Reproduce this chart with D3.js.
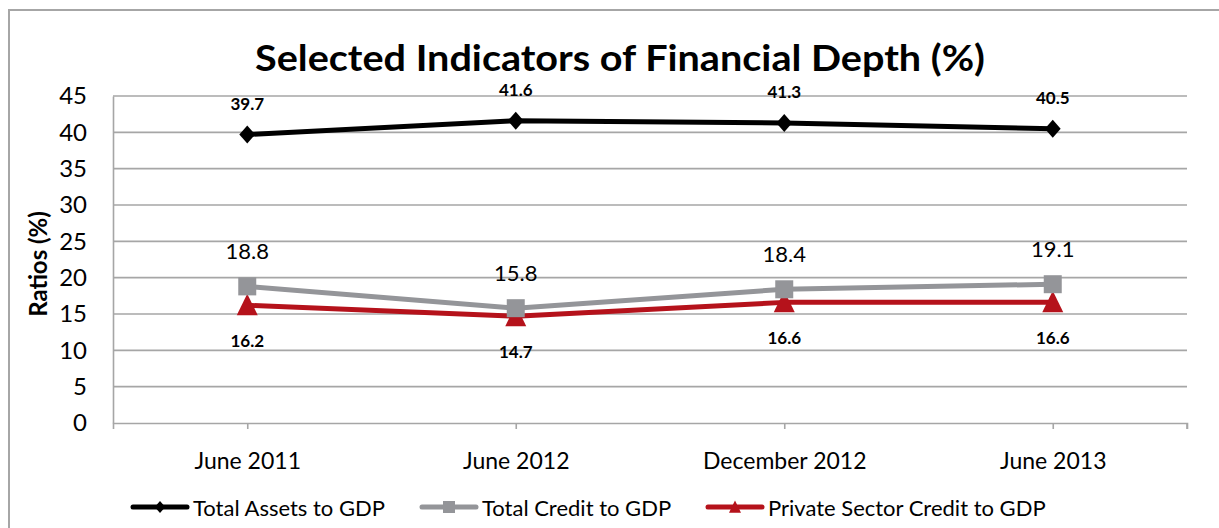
<!DOCTYPE html>
<html>
<head>
<meta charset="utf-8">
<script src="https://cdn.jsdelivr.net/npm/d3@7"></script>
<style>
  html, body { margin: 0; padding: 0; background: #fff; }
  svg { display: block; font-family: Lato, "Open Sans", sans-serif; }
</style>
</head>
<body>
<svg id="chart" width="1219" height="528"></svg>
<script>
// Reporting periods
const categories = ["June 2011", "June 2012", "December 2012", "June 2013"];

// Ratios to GDP (%)
const totalAssets = [39.7, 41.6, 41.3, 40.5];
const totalCredit = [18.8, 15.8, 18.4, 19.1];
const privateCredit = [16.2, 14.7, 16.6, 16.6];

const seriesNames = ["Total Assets to GDP", "Total Credit to GDP", "Private Sector Credit to GDP"];
const yTicks = [0, 5, 10, 15, 20, 25, 30, 35, 40, 45];

const svg = d3.select("#chart");
const W = 1219, H = 528;
const plot = { left: 113, right: 1187, top: 96, bottom: 423 };
const gridColor = "#a6a6a6";

// Outer chart frame
svg.append("rect")
  .attr("x", 9).attr("y", 10)
  .attr("width", W + 20).attr("height", H + 20)
  .attr("fill", "#fff").attr("stroke", gridColor).attr("stroke-width", 2);

const x = d3.scalePoint().domain(categories).range([plot.left, plot.right]).padding(0.5);
const y = d3.scaleLinear().domain([0, 45]).range([plot.bottom, plot.top]);

// Title
svg.append("text")
  .attr("x", 620).attr("y", 71)
  .attr("text-anchor", "middle")
  .attr("font-size", 36).attr("font-weight", 700)
  .attr("textLength", 730).attr("lengthAdjust", "spacingAndGlyphs")
  .attr("fill", "#000")
  .text("Selected Indicators of Financial Depth (%)");

// Horizontal gridlines
svg.append("g")
  .selectAll("line").data(yTicks.filter(d => d > 0)).join("line")
  .attr("x1", plot.left).attr("x2", plot.right)
  .attr("y1", d => y(d)).attr("y2", d => y(d))
  .attr("stroke", gridColor).attr("stroke-width", 1.6);

// Y axis
const yAxis = svg.append("g")
  .attr("transform", `translate(${plot.left},0)`)
  .call(d3.axisLeft(y).tickValues(yTicks).tickSize(0).tickPadding(26));
yAxis.select(".domain").attr("stroke", gridColor).attr("stroke-width", 1.6);
yAxis.selectAll("text")
  .attr("font-family", "Lato, sans-serif").attr("font-size", 24).attr("fill", "#000");

// X axis
const xAxis = svg.append("g")
  .attr("transform", `translate(0,${plot.bottom})`)
  .call(d3.axisBottom(x).tickSize(6).tickSizeOuter(6).tickPadding(24));
xAxis.select(".domain").attr("stroke", gridColor).attr("stroke-width", 1.6);
xAxis.selectAll(".tick line").attr("stroke", gridColor).attr("stroke-width", 1.6);
xAxis.selectAll("text")
  .attr("font-family", "Lato, sans-serif").attr("font-size", 23).attr("fill", "#000");
// tick at the right end of the category axis
svg.append("line")
  .attr("x1", plot.right).attr("x2", plot.right)
  .attr("y1", plot.bottom).attr("y2", plot.bottom + 6)
  .attr("stroke", gridColor).attr("stroke-width", 1.6);

// Y axis title
svg.append("text")
  .attr("transform", `translate(47,264) rotate(-90)`)
  .attr("text-anchor", "middle")
  .attr("font-size", 24).attr("font-weight", 700)
  .text("Ratios (%)");

// Marker shapes
const diamond = s => `M0,${-s}L${s * 0.88},0L0,${s}L${-s * 0.88},0Z`;
const square = s => `M${-s},${-s}H${s}V${s}H${-s}Z`;
const triangle = s => `M0,${-s * 1.1}L${s},${s * 0.95}L${-s},${s * 0.95}Z`;

const series = [
  { name: seriesNames[0], values: totalAssets, color: "#000000", marker: diamond, size: 9, lsize: 6,
    labelDy: -31, labelSize: 17, labelWeight: 700 },
  { name: seriesNames[1], values: totalCredit, color: "#949599", marker: square, size: 9, lsize: 6,
    labelDy: -36, labelSize: 22, labelWeight: 400 },
  { name: seriesNames[2], values: privateCredit, color: "#b5121b", marker: triangle, size: 10.5, lsize: 6,
    labelDy: 35, labelSize: 17, labelWeight: 700 }
];

const line = d3.line().x((d, i) => x(categories[i])).y(d => y(d));

// Draw lines from back to front so the assets line stays on top
[...series].reverse().forEach(s => {
  const g = svg.append("g");
  g.append("path")
    .attr("d", line(s.values))
    .attr("fill", "none").attr("stroke", s.color).attr("stroke-width", 5)
    .attr("stroke-linejoin", "round");
  g.selectAll("path.m").data(s.values).join("path")
    .attr("class", "m")
    .attr("transform", (d, i) => `translate(${x(categories[i])},${y(d)})`)
    .attr("d", s.marker(s.size))
    .attr("fill", s.color);
});

// Data labels
series.forEach(s => {
  svg.append("g").selectAll("text").data(s.values).join("text")
    .attr("x", (d, i) => x(categories[i]))
    .attr("y", d => y(d) + s.labelDy)
    .attr("text-anchor", "middle")
    .attr("dominant-baseline", "central")
    .attr("font-size", s.labelSize).attr("font-weight", s.labelWeight)
    .attr("fill", "#000")
    .text(d => d.toFixed(1));
});

// Legend
const legendX = [133, 422, 708];
const legendY = 507;
const legend = svg.append("g");
series.forEach((s, i) => {
  const g = legend.append("g").attr("transform", `translate(${legendX[i]},${legendY})`);
  g.append("line").attr("x1", 0).attr("x2", 54).attr("y1", 0).attr("y2", 0)
    .attr("stroke", s.color).attr("stroke-width", 5).attr("stroke-linecap", "round");
  g.append("path").attr("transform", "translate(27,0)").attr("d", s.marker(s.lsize)).attr("fill", s.color);
  g.append("text").attr("x", 60).attr("y", 0)
    .attr("dominant-baseline", "central")
    .attr("font-size", 22).attr("fill", "#000")
    .text(s.name);
});
</script>
</body>
</html>
